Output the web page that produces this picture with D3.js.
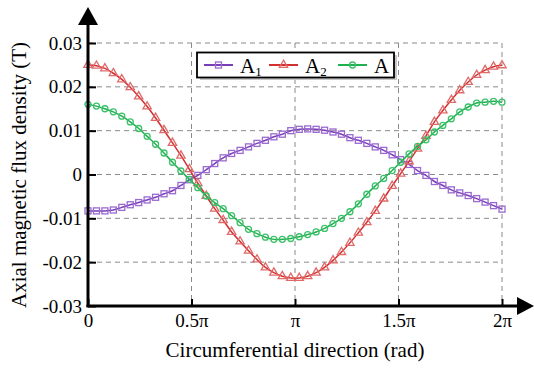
<!DOCTYPE html>
<html><head><meta charset="utf-8">
<script src="https://cdn.jsdelivr.net/npm/d3@7"></script>
<style>
body{margin:0;background:#fff}
</style>
</head><body>
<svg id="c" width="534" height="369" font-family="'Liberation Serif', 'Times New Roman', Times, 'DejaVu Serif', serif"></svg>
<script>
// ---- data ----
const nPoints = 50;
const theta = d3.range(nPoints).map(i => 2 * Math.PI * i / (nPoints - 1));
const A1 = [-0.0083,-0.0083,-0.0083,-0.0081,-0.0075,-0.0069,-0.0064,-0.0058,-0.0052,-0.0044,
            -0.0037,-0.0025,-0.0012,-0.0002,0.0011,0.0025,0.0038,0.0048,0.0055,0.0063,
            0.0071,0.0078,0.0086,0.0092,0.0100,0.0103,0.0104,0.0103,0.0101,0.0097,
            0.0092,0.0084,0.0078,0.0071,0.0063,0.0055,0.0045,0.0034,0.0023,0.0009,
            -0.0002,-0.0016,-0.0025,-0.0035,-0.0042,-0.0048,-0.0055,-0.0063,-0.0071,-0.0079];
const A2 = [0.0250,0.0248,0.0242,0.0231,0.0217,0.0199,0.0178,0.0155,0.0129,0.0101,
            0.0072,0.0043,0.0012,-0.0020,-0.0049,-0.0078,-0.0104,-0.0131,-0.0153,-0.0174,
            -0.0194,-0.0212,-0.0224,-0.0232,-0.0236,-0.0236,-0.0232,-0.0224,-0.0212,-0.0196,
            -0.0177,-0.0156,-0.0133,-0.0109,-0.0083,-0.0055,-0.0026,0.0002,0.0030,0.0059,
            0.0088,0.0120,0.0146,0.0170,0.0192,0.0211,0.0227,0.0238,0.0246,0.0249];
const A  = [0.0160,0.0156,0.0150,0.0143,0.0133,0.0120,0.0105,0.0087,0.0069,0.0049,
            0.0028,0.0008,-0.0011,-0.0030,-0.0049,-0.0064,-0.0078,-0.0094,-0.0110,-0.0125,
            -0.0135,-0.0143,-0.0148,-0.0148,-0.0146,-0.0142,-0.0137,-0.0131,-0.0123,-0.0112,
            -0.0100,-0.0085,-0.0067,-0.0045,-0.0026,-0.0009,0.0009,0.0028,0.0047,0.0064,
            0.0079,0.0097,0.0112,0.0127,0.0143,0.0154,0.0163,0.0165,0.0167,0.0165];
const seriesNames = ["A", "A", "A"];
const seriesSubs = ["1", "2", ""];
const xTickValues = [0, 0.5 * Math.PI, Math.PI, 1.5 * Math.PI, 2 * Math.PI];
const xTickLabels = ["0", "0.5π", "π", "1.5π", "2π"];
const yTickValues = [0.03, 0.02, 0.01, 0, -0.01, -0.02, -0.03];
const yTickLabels = ["0.03", "0.02", "0.01", "0", "-0.01", "-0.02", "-0.03"];
const xTitle = "Circumferential direction (rad)";
const yTitle = "Axial magnetic flux density (T)";

const FONT = "'Liberation Serif', 'Times New Roman', Times, 'DejaVu Serif', serif";

// ---- styles ----
const series = [
  {vals: A1, line: "#7a3db8", mark: "#9a6ad0", shape: "square"},
  {vals: A2, line: "#d42f2f", mark: "#e06a6a", shape: "triangle"},
  {vals: A,  line: "#1fb04f", mark: "#3cc16a", shape: "circle"}
];

const svg = d3.select("#c");
const x = d3.scaleLinear().domain([0, 2 * Math.PI]).range([88, 502]);
const y = d3.scaleLinear().domain([-0.03, 0.03]).range([306, 43]);

// grid
const grid = svg.append("g").attr("stroke", "#8a8a8a").attr("stroke-width", 1)
  .attr("stroke-dasharray", "5,4").attr("fill", "none");
grid.selectAll("line.h").data(yTickValues.filter(v => v > -0.03)).join("line").attr("class", "h")
  .attr("x1", x(0)).attr("x2", x(2 * Math.PI)).attr("y1", d => y(d)).attr("y2", d => y(d));
grid.selectAll("line.v").data(xTickValues.filter(v => v > 0)).join("line").attr("class", "v")
  .attr("x1", d => x(d)).attr("x2", d => x(d)).attr("y1", y(0.03)).attr("y2", y(-0.03));

// series
const lineGen = d3.line().x((d, i) => x(theta[i])).y(d => y(d)).curve(d3.curveCatmullRom);
function drawMarker(sel, shape, color, cx, cy) {
  if (shape === "square") {
    sel.append("rect").attr("x", cx - 3).attr("y", cy - 3).attr("width", 6).attr("height", 6)
      .attr("fill", "none").attr("stroke", color).attr("stroke-width", 1.3);
  } else if (shape === "triangle") {
    sel.append("path").attr("transform", `translate(${cx},${cy})`)
      .attr("d", d3.symbol(d3.symbolTriangle, 30)())
      .attr("fill", "none").attr("stroke", color).attr("stroke-width", 1.3);
  } else {
    sel.append("circle").attr("cx", cx).attr("cy", cy).attr("r", 3)
      .attr("fill", "none").attr("stroke", color).attr("stroke-width", 1.3);
  }
}
series.forEach(s => {
  const g = svg.append("g");
  g.append("path").attr("d", lineGen(s.vals)).attr("fill", "none")
    .attr("stroke", s.line).attr("stroke-width", 1.5);
  s.vals.forEach((v, i) => drawMarker(g, s.shape, s.mark, x(theta[i]), y(v)));
});

// axes
const yAxis = d3.axisLeft(y).tickValues(yTickValues).tickFormat((d, i) => yTickLabels[i])
  .tickSize(-8).tickPadding(6);
const gy = svg.append("g").attr("transform", `translate(${x(0)},0)`).call(yAxis)
  .attr("font-family", FONT).attr("font-size", 19);
gy.select(".domain").remove();
gy.selectAll(".tick line").attr("stroke", "#000").attr("stroke-width", 2);
gy.selectAll(".tick text").attr("fill", "#000");

const xAxis = d3.axisBottom(x).tickValues(xTickValues).tickFormat((d, i) => xTickLabels[i])
  .tickSize(-7).tickPadding(8);
const gx = svg.append("g").attr("transform", `translate(0,${y(-0.03)})`).call(xAxis)
  .attr("font-family", FONT).attr("font-size", 19);
gx.select(".domain").remove();
gx.selectAll(".tick line").attr("stroke", "#000").attr("stroke-width", 2);
gx.selectAll(".tick text").attr("fill", "#000");

// axis lines + arrows
const x0 = x(0), yb = y(-0.03);
svg.append("line").attr("x1", x0).attr("y1", yb + 1).attr("x2", x0).attr("y2", 22)
  .attr("stroke", "#000").attr("stroke-width", 3);
svg.append("line").attr("x1", x0 - 1.5).attr("y1", yb).attr("x2", 520).attr("y2", yb)
  .attr("stroke", "#000").attr("stroke-width", 3);
svg.append("path").attr("d", `M${x0 - 10},25 L${x0 + 10},25 L${x0},7 Z`).attr("fill", "#000");
svg.append("path").attr("d", `M517,${yb - 9} L517,${yb + 9} L534,${yb} Z`).attr("fill", "#000");

// titles
svg.append("text").attr("x", 295).attr("y", 357).attr("text-anchor", "middle")
  .attr("font-family", FONT).attr("font-size", 21).text(xTitle);
svg.append("text").attr("transform", "translate(26,175) rotate(-90)").attr("text-anchor", "middle")
  .attr("font-family", FONT).attr("font-size", 21).text(yTitle);

// legend
const lg = svg.append("g");
lg.append("rect").attr("x", 200).attr("y", 55).attr("width", 197).attr("height", 25).attr("fill", "#c8c8c8");
lg.append("rect").attr("x", 197).attr("y", 52.5).attr("width", 197).attr("height", 25)
  .attr("fill", "#fff").attr("stroke", "#000").attr("stroke-width", 1.8);
const entryX = [204, 269, 338];
series.forEach((s, i) => {
  const lx = entryX[i], ly = 65;
  lg.append("line").attr("x1", lx).attr("x2", lx + 29).attr("y1", ly).attr("y2", ly)
    .attr("stroke", s.line).attr("stroke-width", 2);
  drawMarker(lg, s.shape, s.mark, lx + 14.5, ly);
  const t = lg.append("text").attr("x", lx + 36).attr("y", 73).attr("font-family", FONT)
    .attr("font-size", 21).text(seriesNames[i]);
  if (seriesSubs[i]) t.append("tspan").attr("font-size", 13).attr("dy", 3).text(seriesSubs[i]);
});
</script>
</body></html>
